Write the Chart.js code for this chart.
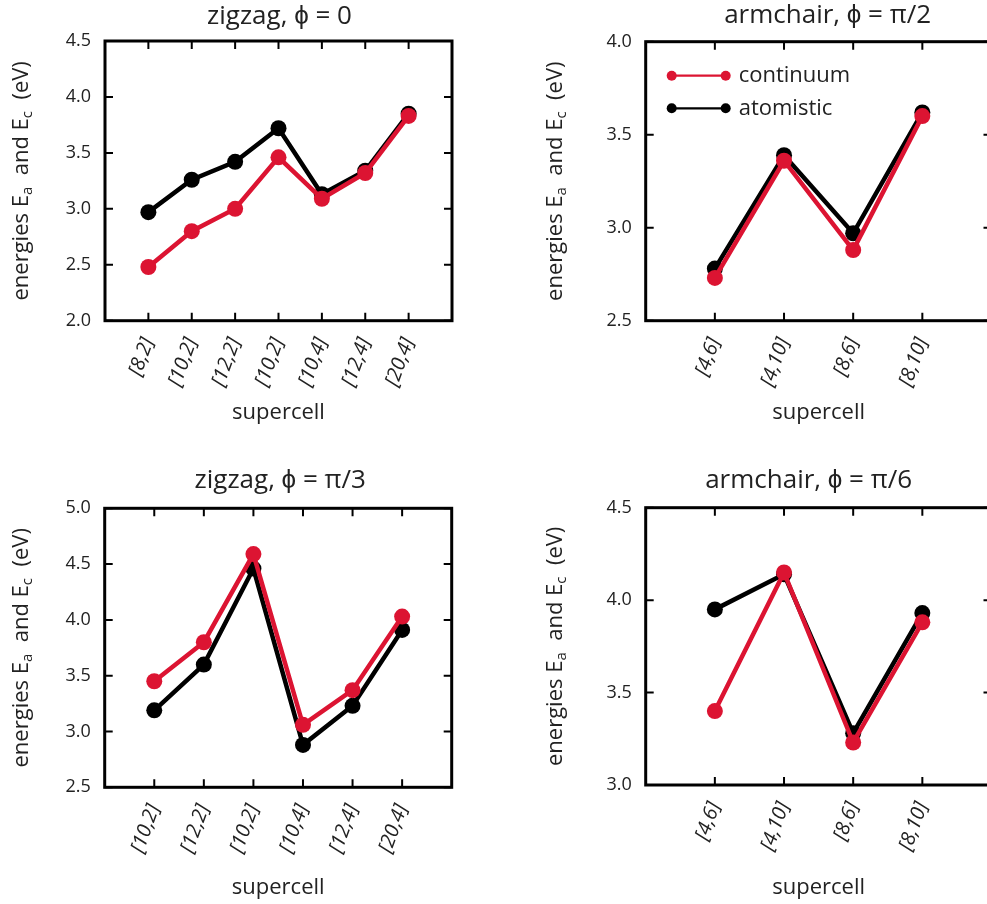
<!DOCTYPE html>
<html>
<head>
<meta charset="utf-8">
<script src="https://cdn.jsdelivr.net/npm/chart.js@4.4.0/dist/chart.umd.min.js"></script>
<style>
html, body { margin: 0; padding: 0; background: #fff; width: 987px; height: 904px; overflow: hidden; }
canvas { position: absolute; }
</style>
</head>
<body>
<canvas id="zz0" width="470" height="425" style="left:0;top:0"></canvas>
<canvas id="ac2" width="510" height="425" style="left:500px;top:0"></canvas>
<canvas id="zz3" width="470" height="444" style="left:0;top:460px"></canvas>
<canvas id="ac6" width="510" height="444" style="left:500px;top:460px"></canvas>
<script>
// zigzag, phi = 0
var zz0Cells = ['[8,2]', '[10,2]', '[12,2]', '[10,2]', '[10,4]', '[12,4]', '[20,4]'];
var zz0Continuum = [2.48, 2.80, 3.00, 3.46, 3.09, 3.32, 3.83];
var zz0Atomistic = [2.97, 3.26, 3.42, 3.72, 3.13, 3.34, 3.85];
var zz0Range = [2.0, 4.5];

// armchair, phi = pi/2
var ac2Cells = ['[4,6]', '[4,10]', '[8,6]', '[8,10]'];
var ac2Continuum = [2.73, 3.36, 2.88, 3.60];
var ac2Atomistic = [2.78, 3.39, 2.97, 3.62];
var ac2Range = [2.5, 4.0];

// zigzag, phi = pi/3
var zz3Cells = ['[10,2]', '[12,2]', '[10,2]', '[10,4]', '[12,4]', '[20,4]'];
var zz3Continuum = [3.45, 3.80, 4.59, 3.06, 3.37, 4.03];
var zz3Atomistic = [3.19, 3.60, 4.46, 2.88, 3.23, 3.91];
var zz3Range = [2.5, 5.0];

// armchair, phi = pi/6
var ac6Cells = ['[4,6]', '[4,10]', '[8,6]', '[8,10]'];
var ac6Continuum = [3.40, 4.15, 3.23, 3.88];
var ac6Atomistic = [3.95, 4.14, 3.28, 3.93];
var ac6Range = [3.0, 4.5];

var seriesNames = ['continuum', 'atomistic'];
var RED = '#DC1432';
var BLACK = '#000000';
var FONT = "'Open Sans', sans-serif";
var TEXT = '#222222';

Chart.defaults.font.family = FONT;
Chart.defaults.color = TEXT;

// frame, inward ticks, titles, y label with subscripts, legend
var decorPlugin = {
    id: 'decor',
    beforeDatasetsDraw: function(chart, args, opts) {
        var ctx = chart.ctx, a = chart.chartArea;
        var xs = chart.scales.x, ys = chart.scales.y;
        ctx.save();
        ctx.strokeStyle = '#000';
        ctx.lineWidth = 2;
        xs.ticks.forEach(function(t) {
            var px = xs.getPixelForValue(t.value);
            ctx.beginPath();
            ctx.moveTo(px, a.bottom); ctx.lineTo(px, a.bottom - 8);
            ctx.moveTo(px, a.top); ctx.lineTo(px, a.top + 8);
            ctx.stroke();
        });
        ys.ticks.forEach(function(t) {
            var py = ys.getPixelForValue(t.value);
            ctx.beginPath();
            ctx.moveTo(a.left, py); ctx.lineTo(a.left + 8, py);
            ctx.moveTo(a.right, py); ctx.lineTo(a.right - 8, py);
            ctx.stroke();
        });
        ctx.lineWidth = 3;
        ctx.strokeRect(a.left, a.top, a.right - a.left, a.bottom - a.top);
        ctx.restore();
    },
    afterDraw: function(chart, args, opts) {
        var ctx = chart.ctx, a = chart.chartArea;
        ctx.save();
        ctx.fillStyle = TEXT;
        ctx.textBaseline = 'middle';

        // title
        ctx.font = '26px ' + FONT;
        ctx.textAlign = 'center';
        ctx.fillText(opts.title, (a.left + a.right) / 2 + opts.titleDx, opts.titleY);

        // y axis label
        var parts = [['energies E', 0], ['a', 1], ['  and E', 0], ['c', 1], ['  (eV)', 0]];
        var total = 0;
        parts.forEach(function(p) {
            ctx.font = (p[1] ? '15px ' : '22px ') + FONT;
            p.push(ctx.measureText(p[0]).width);
            total += p[2];
        });
        ctx.translate(a.left - opts.yLabelDx, (a.top + a.bottom) / 2);
        ctx.rotate(-Math.PI / 2);
        ctx.textAlign = 'left';
        var cx = -total / 2;
        parts.forEach(function(p) {
            ctx.font = (p[1] ? '15px ' : '22px ') + FONT;
            ctx.fillText(p[0], cx, p[1] ? 6 : 0);
            cx += p[2];
        });
        ctx.restore();

        if (opts.legend) {
            ctx.save();
            chart.data.datasets.forEach(function(ds, i) {
                var y = a.top + 34 + i * 32.6;
                var x0 = a.left + 26, x1 = a.left + 80;
                ctx.strokeStyle = ds.borderColor;
                ctx.fillStyle = ds.borderColor;
                ctx.lineWidth = 2.2;
                ctx.beginPath(); ctx.moveTo(x0, y); ctx.lineTo(x1, y); ctx.stroke();
                [x0, x1].forEach(function(x) {
                    ctx.beginPath(); ctx.arc(x, y, 5, 0, Math.PI * 2); ctx.fill();
                });
                ctx.fillStyle = TEXT;
                ctx.font = '22px ' + FONT;
                ctx.textAlign = 'left';
                ctx.textBaseline = 'middle';
                ctx.fillText(ds.label, a.left + 93, y);
            });
            ctx.restore();
        }
    }
};

function toPoints(vals) {
    return vals.map(function(v, i) { return { x: i, y: v }; });
}

function makePanel(id, cells, cont, atom, range, geo) {
    var canvas = document.getElementById(id);
    var cw = canvas.width, chh = canvas.height;
    var yW = geo.area[0] - geo.left;
    var padTop = geo.area[1] - geo.top;
    var padRight = geo.left + cw - geo.area[2];
    var xH = geo.top + chh - geo.area[3];
    var xTitlePad = geo.top + chh - geo.xTitleY - 13.2;

    return new Chart(canvas, {
        type: 'line',
        data: {
            datasets: [{
                label: seriesNames[0],
                data: toPoints(cont),
                borderColor: RED,
                backgroundColor: RED,
                borderWidth: 4.5,
                pointRadius: 8,
                pointBorderWidth: 0,
                pointBackgroundColor: RED,
                tension: 0
            }, {
                label: seriesNames[1],
                data: toPoints(atom),
                borderColor: BLACK,
                backgroundColor: BLACK,
                borderWidth: 4.5,
                pointRadius: 8,
                pointBorderWidth: 0,
                pointBackgroundColor: BLACK,
                tension: 0
            }]
        },
        options: {
            responsive: false,
            animation: false,
            events: [],
            layout: { padding: { left: 0, top: padTop, right: padRight, bottom: 0 } },
            plugins: {
                legend: { display: false },
                tooltip: { enabled: false },
                decor: {
                    title: geo.title,
                    titleY: geo.titleY - geo.top,
                    titleDx: geo.titleDx,
                    yLabelDx: geo.yLabelDx,
                    legend: !!geo.legend
                }
            },
            scales: {
                x: {
                    type: 'linear',
                    min: -1,
                    max: cells.length,
                    grid: { display: false, drawTicks: false },
                    border: { display: false },
                    afterBuildTicks: function(s) {
                        s.ticks = cells.map(function(c, i) { return { value: i }; });
                    },
                    afterFit: function(s) { s.height = xH; },
                    ticks: {
                        autoSkip: false,
                        minRotation: 70,
                        maxRotation: 70,
                        padding: geo.xTickPad,
                        font: { size: 20, style: 'italic' },
                        color: TEXT,
                        callback: function(v) { return cells[v]; }
                    },
                    title: {
                        display: true,
                        text: 'supercell',
                        font: { size: 22 },
                        color: TEXT,
                        padding: { top: 0, bottom: xTitlePad }
                    }
                },
                y: {
                    min: range[0],
                    max: range[1],
                    grid: { display: false, drawTicks: false },
                    border: { display: false },
                    afterFit: function(s) { s.width = yW; },
                    ticks: {
                        stepSize: 0.5,
                        padding: 14,
                        font: { size: 18 },
                        color: TEXT,
                        callback: function(v) { return v.toFixed(1); }
                    }
                }
            }
        },
        plugins: [decorPlugin]
    });
}

makePanel('zz0', zz0Cells, zz0Continuum, zz0Atomistic, zz0Range, {
    left: 0, top: 0, area: [105, 41, 452, 320.7], xTitleY: 413,
    title: 'zigzag, \u03D5 = 0', titleY: 17, titleDx: 1, yLabelDx: 83, xTickPad: 14
});
makePanel('ac2', ac2Cells, ac2Continuum, ac2Atomistic, ac2Range, {
    left: 500, top: 0, area: [645.7, 41.7, 991.5, 320.7], xTitleY: 413,
    title: 'armchair, \u03D5 = \u03C0/2', titleY: 16, titleDx: 9, yLabelDx: 90, xTickPad: 14,
    legend: true
});
makePanel('zz3', zz3Cells, zz3Continuum, zz3Atomistic, zz3Range, {
    left: 0, top: 460, area: [104.7, 508.3, 451.7, 787.3], xTitleY: 888,
    title: 'zigzag, \u03D5 = \u03C0/3', titleY: 481, titleDx: 2, yLabelDx: 83, xTickPad: 14
});
makePanel('ac6', ac6Cells, ac6Continuum, ac6Atomistic, ac6Range, {
    left: 500, top: 460, area: [645.7, 507.7, 991.5, 785], xTitleY: 888,
    title: 'armchair, \u03D5 = \u03C0/6', titleY: 481, titleDx: -10, yLabelDx: 90, xTickPad: 14
});
</script>
</body>
</html>
